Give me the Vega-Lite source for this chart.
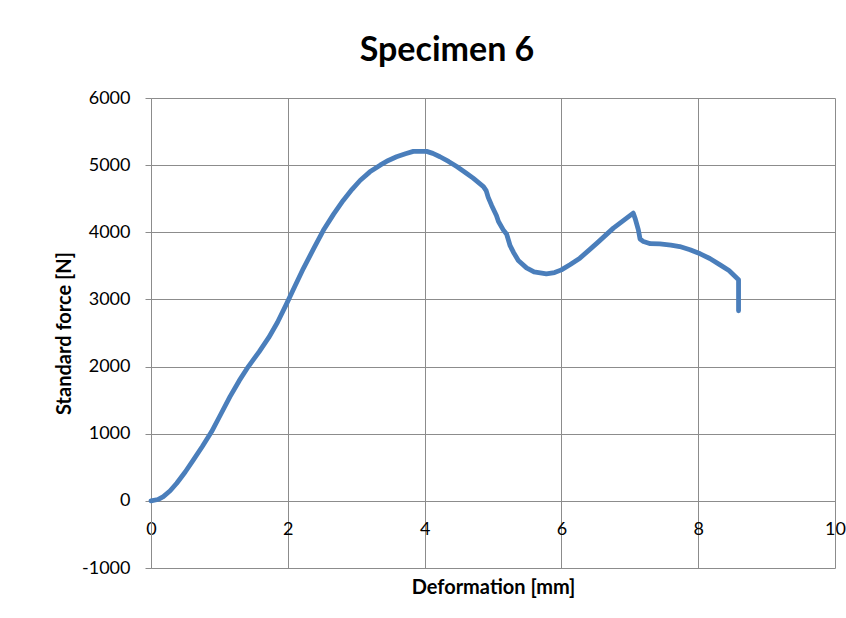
{
  "$schema": "https://vega.github.io/schema/vega-lite/v6.json",
  "autosize": "none",
  "width": 684,
  "height": 470,
  "padding": {"left": 151, "top": 98, "right": 11, "bottom": 50},
  "background": "white",
  "config": {"view": {"stroke": null}},
  "title": {
    "text": "Specimen 6",
    "font": "Lato",
    "fontSize": 34,
    "fontWeight": "bold",
    "color": "black",
    "anchor": "middle",
    "frame": "group",
    "dx": -46,
    "offset": 21
  },
  "data": {
    "values": [
      {"i": 0, "deformation": 0, "force": 0},
      {"i": 1, "deformation": 0.1, "force": 20},
      {"i": 2, "deformation": 0.18, "force": 64},
      {"i": 3, "deformation": 0.28, "force": 150},
      {"i": 4, "deformation": 0.376, "force": 263},
      {"i": 5, "deformation": 0.5, "force": 430},
      {"i": 6, "deformation": 0.62, "force": 610},
      {"i": 7, "deformation": 0.75, "force": 810},
      {"i": 8, "deformation": 0.887, "force": 1032},
      {"i": 9, "deformation": 1.02, "force": 1290},
      {"i": 10, "deformation": 1.155, "force": 1553},
      {"i": 11, "deformation": 1.29, "force": 1790},
      {"i": 12, "deformation": 1.423, "force": 2000},
      {"i": 13, "deformation": 1.58, "force": 2220},
      {"i": 14, "deformation": 1.72, "force": 2430},
      {"i": 15, "deformation": 1.85, "force": 2660},
      {"i": 16, "deformation": 1.98, "force": 2930},
      {"i": 17, "deformation": 2.1, "force": 3190},
      {"i": 18, "deformation": 2.227, "force": 3460},
      {"i": 19, "deformation": 2.38, "force": 3760},
      {"i": 20, "deformation": 2.52, "force": 4030},
      {"i": 21, "deformation": 2.67, "force": 4270},
      {"i": 22, "deformation": 2.81, "force": 4475},
      {"i": 23, "deformation": 2.94, "force": 4640},
      {"i": 24, "deformation": 3.06, "force": 4775},
      {"i": 25, "deformation": 3.2, "force": 4900},
      {"i": 26, "deformation": 3.35, "force": 5000},
      {"i": 27, "deformation": 3.47, "force": 5070},
      {"i": 28, "deformation": 3.59, "force": 5125},
      {"i": 29, "deformation": 3.72, "force": 5170},
      {"i": 30, "deformation": 3.835, "force": 5205},
      {"i": 31, "deformation": 4.03, "force": 5205},
      {"i": 32, "deformation": 4.12, "force": 5175},
      {"i": 33, "deformation": 4.225, "force": 5125},
      {"i": 34, "deformation": 4.35, "force": 5055},
      {"i": 35, "deformation": 4.47, "force": 4979},
      {"i": 36, "deformation": 4.59, "force": 4895},
      {"i": 37, "deformation": 4.71, "force": 4806},
      {"i": 38, "deformation": 4.86, "force": 4681},
      {"i": 39, "deformation": 4.9, "force": 4620},
      {"i": 40, "deformation": 4.93, "force": 4520},
      {"i": 41, "deformation": 4.98, "force": 4400},
      {"i": 42, "deformation": 5.05, "force": 4250},
      {"i": 43, "deformation": 5.08, "force": 4160},
      {"i": 44, "deformation": 5.15, "force": 4036},
      {"i": 45, "deformation": 5.2, "force": 3970},
      {"i": 46, "deformation": 5.25, "force": 3800},
      {"i": 47, "deformation": 5.3, "force": 3700},
      {"i": 48, "deformation": 5.37, "force": 3580},
      {"i": 49, "deformation": 5.49, "force": 3470},
      {"i": 50, "deformation": 5.6, "force": 3410},
      {"i": 51, "deformation": 5.78, "force": 3380},
      {"i": 52, "deformation": 5.9, "force": 3400},
      {"i": 53, "deformation": 6.0, "force": 3440},
      {"i": 54, "deformation": 6.13, "force": 3520},
      {"i": 55, "deformation": 6.27, "force": 3615},
      {"i": 56, "deformation": 6.4, "force": 3730},
      {"i": 57, "deformation": 6.52, "force": 3838},
      {"i": 58, "deformation": 6.64, "force": 3950},
      {"i": 59, "deformation": 6.76, "force": 4062},
      {"i": 60, "deformation": 6.9, "force": 4170},
      {"i": 61, "deformation": 7.05, "force": 4285},
      {"i": 62, "deformation": 7.08, "force": 4200},
      {"i": 63, "deformation": 7.125, "force": 4036},
      {"i": 64, "deformation": 7.15, "force": 3900},
      {"i": 65, "deformation": 7.2, "force": 3862},
      {"i": 66, "deformation": 7.3, "force": 3830},
      {"i": 67, "deformation": 7.44, "force": 3828},
      {"i": 68, "deformation": 7.6, "force": 3810},
      {"i": 69, "deformation": 7.73, "force": 3788},
      {"i": 70, "deformation": 7.88, "force": 3740},
      {"i": 71, "deformation": 8.03, "force": 3679},
      {"i": 72, "deformation": 8.17, "force": 3610},
      {"i": 73, "deformation": 8.32, "force": 3515},
      {"i": 74, "deformation": 8.45, "force": 3430},
      {"i": 75, "deformation": 8.59, "force": 3292},
      {"i": 76, "deformation": 8.59, "force": 2830}
    ]
  },
  "mark": {"type": "line", "color": "#4a7ebb", "strokeWidth": 4.8, "strokeCap": "round", "strokeJoin": "round"},
  "encoding": {
    "order": {"field": "i", "type": "quantitative"},
    "x": {
      "field": "deformation",
      "type": "quantitative",
      "scale": {"domain": [0, 10], "nice": false, "zero": false},
      "axis": {
        "values": [0, 2, 4, 6, 8, 10],
        "format": "d",
        "offset": -67,
        "domain": false,
        "ticks": false,
        "grid": true,
        "gridColor": "#8c8c8c",
        "gridOpacity": 1,
        "gridWidth": 1,
        "labelFont": "Lato",
        "labelFontSize": 18,
        "labelColor": "black",
        "labelPadding": 19,
        "labelFlush": false,
        "title": "Deformation [mm]",
        "titleFont": "Lato",
        "titleFontSize": 20,
        "titleFontWeight": "bold",
        "titleColor": "black",
        "titleX": 342,
        "titleY": 86,
        "titleBaseline": "middle"
      }
    },
    "y": {
      "field": "force",
      "type": "quantitative",
      "scale": {"domain": [-1000, 6000], "nice": false, "zero": false},
      "axis": {
        "values": [-1000, 0, 1000, 2000, 3000, 4000, 5000, 6000],
        "labelExpr": "datum.value < 0 ? '-' + abs(datum.value) : '' + datum.value",
        "domain": true,
        "domainColor": "#8c8c8c",
        "ticks": true,
        "tickSize": 6,
        "tickColor": "#8c8c8c",
        "grid": true,
        "gridColor": "#8c8c8c",
        "gridOpacity": 1,
        "gridWidth": 1,
        "labelFont": "Lato",
        "labelFontSize": 18,
        "labelColor": "black",
        "labelPadding": 15,
        "labelFlush": false,
        "title": "Standard force [N]",
        "titleFont": "Lato",
        "titleFontSize": 20,
        "titleFontWeight": "bold",
        "titleColor": "black",
        "titleX": -87,
        "titleY": 235,
        "titleBaseline": "middle"
      }
    }
  }
}
